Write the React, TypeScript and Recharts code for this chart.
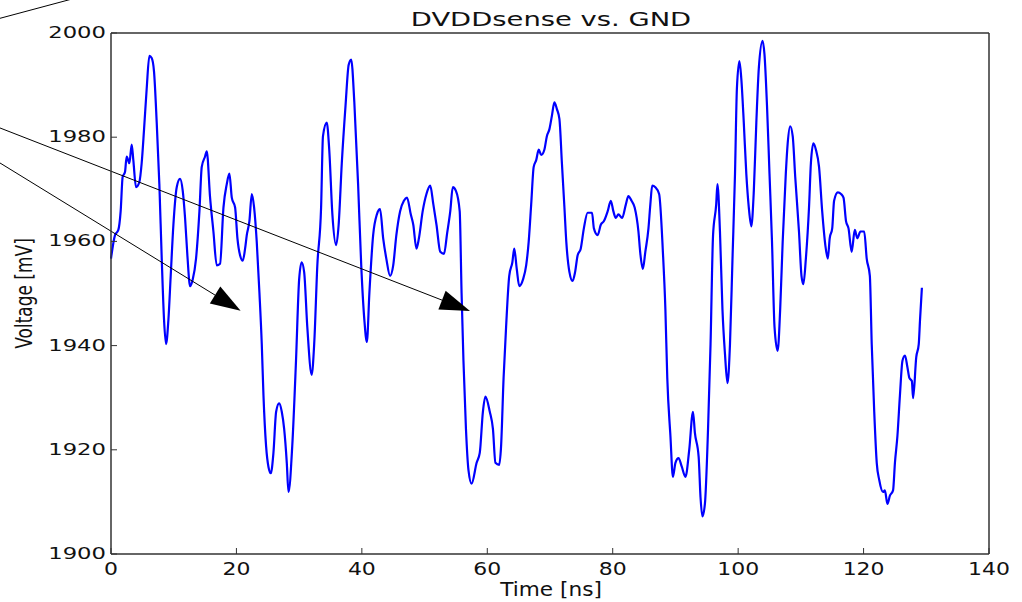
import { LineChart, Line, XAxis, YAxis, ReferenceLine, Label } from "recharts";

// time [ns] and voltage [mV]
const time = [
  0, 0.64, 1.17, 1.54, 1.86, 2.23, 2.5, 2.93, 3.3, 3.56, 3.99, 4.52, 4.89, 5.27, 5.69, 6.12, 6.49, 6.86, 7.29,
  7.71, 8.09, 8.46, 8.78, 9.15, 9.52, 9.95, 10.48, 11.01, 11.44, 11.81, 12.18, 12.61, 13.03, 13.56, 14.1, 14.47,
  15.0, 15.27, 15.8, 16.33, 16.86, 17.39, 17.93, 18.46, 18.88, 19.26, 19.79, 20.16, 20.59, 21.01, 21.38, 21.65,
  22.07, 22.45, 22.82, 23.24, 23.67, 24.04, 24.31, 24.73, 25.11, 25.48, 25.9, 26.33, 26.81, 27.23, 27.61, 28.03,
  28.3, 28.9, 29.5, 30.0, 30.4, 30.8, 31.3, 32.0, 32.4, 32.9, 33.5, 33.8, 34.4, 34.8, 35.3, 35.9, 36.3, 36.8,
  37.4, 37.9, 38.3, 38.8, 39.4, 39.9, 40.4, 40.8, 41.2, 41.8, 42.4, 42.9, 43.4, 43.9, 44.5, 45.0, 45.5, 46.1,
  46.7, 47.2, 47.8, 48.2, 48.7, 49.1, 49.7, 50.3, 50.9, 51.4, 51.9, 52.5, 53.1, 53.6, 54.1, 54.5, 55.0, 55.6,
  55.9, 56.2, 56.6, 57.0, 57.5, 58.3, 58.8, 59.3, 59.7, 60.4, 60.9, 61.3, 61.9, 62.2, 62.6, 63.0, 63.5, 64.0,
  64.3, 64.7, 65.1, 65.7, 66.2, 66.6, 67.0, 67.4, 67.8, 68.2, 68.6, 69.1, 69.5, 69.9, 70.3, 70.7, 71.1, 71.5,
  71.9, 72.3, 72.6, 73.1, 73.6, 74.0, 74.4, 74.9, 75.4, 76.0, 76.7, 77.0, 77.6, 78.1, 78.6, 79.2, 79.7, 80.1,
  80.5, 80.9, 81.5, 82.1, 82.5, 83.0, 83.5, 84.1, 84.4, 84.8, 85.2, 85.7, 86.0, 86.3, 86.8, 87.4, 88.0, 88.4,
  88.7, 89.2, 89.6, 90.0, 90.5, 91.0, 91.6, 92.2, 92.8, 93.1, 93.7, 94.0, 94.3, 94.7, 95.2, 95.6, 96.0, 96.5,
  96.7, 97.1, 97.5, 97.9, 98.3, 98.7, 99.1, 99.5, 99.8, 100.2, 100.5, 100.9, 101.3, 101.7, 102.1, 102.5, 102.9,
  103.3, 103.9, 104.2, 104.6, 105.0, 105.4, 105.8, 106.3, 106.7, 107.1, 107.6, 107.9, 108.3, 108.7, 109.1,
  109.7, 110.1, 110.4, 110.8, 111.3, 111.6, 112.0, 112.4, 112.9, 113.4, 113.9, 114.3, 114.6, 115.0, 115.3,
  115.9, 116.4, 116.8, 117.2, 117.6, 118.1, 118.6, 119.0, 119.5, 120.1, 120.5, 121.0, 121.3, 121.7, 122.1,
  122.5, 123.1, 123.4, 123.8, 124.2, 124.7, 125.0, 125.4, 125.8, 126.2, 126.6, 127.0, 127.3, 127.7, 127.9,
  128.4, 128.8, 129.0, 129.3,
];

const voltage = [
  1956.7, 1961.2, 1962.2, 1965.8, 1972.4, 1973.3, 1976.3, 1975, 1978.6, 1975.6, 1970.4, 1971.4, 1975, 1981.5,
  1989.3, 1995.6, 1995.2, 1992.6, 1982.8, 1971, 1956.7, 1944.9, 1940.3, 1944.9, 1953.4, 1963.2, 1970.4, 1972,
  1969.7, 1964.5, 1957.3, 1951.4, 1952.7, 1956.7, 1965.8, 1974.3, 1976.3, 1977.3, 1968.4, 1961.9, 1955.4,
  1955.7, 1966.5, 1971, 1973, 1968.4, 1966.5, 1960.6, 1957.3, 1956.3, 1958.6, 1961.2, 1963.9, 1969.1, 1966.5,
  1959.9, 1950.1, 1940.3, 1930.5, 1920.7, 1916.7, 1915.5, 1919.4, 1927.3, 1928.9, 1927.3, 1924, 1917.5,
  1911.9, 1920.7, 1937.1, 1952.7, 1956, 1954.1, 1943.6, 1934.4, 1940.3, 1955.4, 1966.5, 1980.2, 1982.8, 1977.6,
  1965.2, 1959.3, 1963.2, 1975, 1986.1, 1993.9, 1994.9, 1986.7, 1971, 1955.4, 1944.9, 1940.7, 1950.1, 1961.2,
  1965.2, 1966.2, 1960.6, 1956.7, 1953.4, 1955.4, 1961.2, 1965.8, 1967.8, 1968.4, 1965.2, 1963.2, 1958.6,
  1960.6, 1965.8, 1969.1, 1970.7, 1967.1, 1963.2, 1958, 1957.6, 1961.6, 1965.8, 1970.4, 1969.7, 1965.8,
  1950.1, 1937.1, 1924, 1916.1, 1913.5, 1917.5, 1919.4, 1927.3, 1930.2, 1927.3, 1924, 1917.5, 1917.1, 1920.7,
  1933.8, 1943.6, 1953.4, 1956, 1958.6, 1954.7, 1951.4, 1952.7, 1955.4, 1959.9, 1967.1, 1974.3, 1975.6,
  1977.6, 1976.6, 1977.6, 1980.2, 1981.5, 1984.1, 1986.7, 1985.4, 1983.5, 1975, 1966.5, 1959.9, 1954.1,
  1952.4, 1954.1, 1957.3, 1958.6, 1962.5, 1965.5, 1965.5, 1962.5, 1961.2, 1963.2, 1963.9, 1965.8, 1967.8,
  1965.8, 1964.5, 1965.2, 1964.5, 1967.1, 1968.7, 1967.8, 1966.5, 1961.9, 1957.7, 1954.7, 1958, 1962.5,
  1967.1, 1970.7, 1970.4, 1969.1, 1958, 1946.9, 1933.8, 1922.7, 1914.8, 1917.5, 1918.4, 1916.8, 1914.8, 1920,
  1927.3, 1923.3, 1918.7, 1910.9, 1907.2, 1909.6, 1924, 1940.3, 1961.2, 1967.1, 1971, 1961.9, 1946.9, 1938.4,
  1932.8, 1940.3, 1956.7, 1973, 1989.3, 1994.6, 1991.3, 1982.8, 1973, 1966.5, 1962.9, 1969.7, 1982.8, 1993.3,
  1998.5, 1995.9, 1986.1, 1973, 1959.9, 1943.6, 1939, 1946.9, 1959.9, 1973, 1978.8, 1982.1, 1980.2, 1972.4,
  1961.9, 1953.4, 1951.8, 1956.7, 1966.5, 1975, 1978.8, 1977.6, 1974.3, 1965.8, 1959.3, 1956.7, 1960.6,
  1962.5, 1967.8, 1969.4, 1969.1, 1968.4, 1963.9, 1962.5, 1958, 1962.2, 1960.6, 1961.9, 1961.9, 1956.7,
  1953.4, 1940.3, 1927.3, 1917.5, 1914.2, 1911.9, 1912.2, 1909.6, 1911.2, 1912.2, 1917.5, 1922.7, 1930.5,
  1937.1, 1938.1, 1935.8, 1933.8, 1933.2, 1929.9, 1937.8, 1940.3, 1944.9, 1951.1,
];

const xTicks = [0, 20, 40, 60, 80, 100, 120, 140];
const yTicks = [1900, 1920, 1940, 1960, 1980, 2000];

// annotation segments, in data units (they start left of the axes)
const arrowToFirstDip = [
  { x: -17.7, y: 1975.05 },
  { x: 20.67, y: 1946.68 },
];
const arrowToSecondDip = [
  { x: -17.7, y: 1981.77 },
  { x: 57.24, y: 1946.64 },
];
const strayLine = [
  { x: -17.7, y: 2002.82 },
  { x: -6.3, y: 2006.5 },
];

const data = time.map((t, i) => ({ t, v: voltage[i] }));

const FONT = "DejaVu Sans";
const AXIS = "#333";

const XTick = ({ x, y, payload }: any) => (
  <text
    transform={`translate(${x},${y}) scale(1.22,1)`}
    textAnchor="middle"
    fontSize={18}
    fontFamily={FONT}
    fill="#111"
  >
    {payload.value}
  </text>
);

const YTick = ({ x, y, payload }: any) => (
  <text
    transform={`translate(${x},${y}) scale(1.42,1)`}
    y={5}
    textAnchor="end"
    fontSize={16}
    fontFamily={FONT}
    fill="#111"
  >
    {payload.value}
  </text>
);

const plainLine = (p: any) => (
  <line x1={p.x1} y1={p.y1} x2={p.x2} y2={p.y2} stroke="#000" strokeWidth={1} />
);

const arrowLine = (p: any) => {
  const dx = p.x2 - p.x1;
  const dy = p.y2 - p.y1;
  const len = Math.sqrt(dx * dx + dy * dy);
  const ux = dx / len;
  const uy = dy / len;
  const bx = p.x2 - ux * 30;
  const by = p.y2 - uy * 30;
  const pts = `${p.x2},${p.y2} ${bx - uy * 10},${by + ux * 10} ${bx + uy * 10},${by - ux * 10}`;
  return (
    <g>
      <line x1={p.x1} y1={p.y1} x2={bx} y2={by} stroke="#000" strokeWidth={1} />
      <polygon points={pts} fill="#000" />
    </g>
  );
};

const titleContent = ({ viewBox }: any) => (
  <text
    transform={`translate(${viewBox.x + viewBox.width / 2 + 1},26) scale(1.37,1)`}
    textAnchor="middle"
    fontSize={20}
    fontFamily={FONT}
    fill="#111"
  >
    DVDDsense vs. GND
  </text>
);

const xLabelContent = ({ viewBox }: any) => (
  <text
    transform={`translate(${viewBox.x + viewBox.width / 2 + 1},596) scale(1.14,1)`}
    textAnchor="middle"
    fontSize={19}
    fontFamily={FONT}
    fill="#111"
  >
    Time [ns]
  </text>
);

const yLabelContent = ({ viewBox }: any) => (
  <text
    transform={`translate(32,${viewBox.y + viewBox.height / 2}) scale(1.3,1) rotate(-90)`}
    textAnchor="middle"
    fontSize={17}
    fontFamily={FONT}
    fill="#111"
  >
    Voltage [mV]
  </text>
);

export default function App() {
  return (
    <div style={{ position: "absolute", left: 0, top: 0, width: 1022, height: 602, background: "#fff" }}>
      <LineChart width={1022} height={602} data={data} margin={{ top: 32, right: 32, bottom: 0, left: 0 }}>
        <XAxis
          dataKey="t"
          type="number"
          domain={[0, 140]}
          ticks={xTicks}
          height={48}
          tickSize={-6}
          tickMargin={27}
          axisLine={{ stroke: AXIS, strokeWidth: 1.5 }}
          tickLine={{ stroke: AXIS }}
          tick={<XTick />}
          label={<Label content={xLabelContent} />}
        />
        <XAxis
          xAxisId="top"
          orientation="top"
          type="number"
          domain={[0, 140]}
          ticks={xTicks}
          height={1}
          tickSize={-6}
          axisLine={{ stroke: AXIS, strokeWidth: 1.5 }}
          tickLine={{ stroke: AXIS }}
          tick={false}
          label={<Label content={titleContent} />}
        />
        <YAxis
          type="number"
          domain={[1900, 2000]}
          ticks={yTicks}
          width={111}
          tickSize={-6}
          tickMargin={11}
          axisLine={{ stroke: AXIS, strokeWidth: 1.5 }}
          tickLine={{ stroke: AXIS }}
          tick={<YTick />}
          label={<Label content={yLabelContent} />}
        />
        <YAxis
          yAxisId="right"
          orientation="right"
          type="number"
          domain={[1900, 2000]}
          ticks={yTicks}
          width={1}
          tickSize={-6}
          axisLine={{ stroke: AXIS, strokeWidth: 1.5 }}
          tickLine={{ stroke: AXIS }}
          tick={false}
        />
        <Line
          type="monotone"
          dataKey="v"
          stroke="#0000ff"
          strokeWidth={2.2}
          dot={false}
          isAnimationActive={false}
        />
        <ReferenceLine segment={strayLine} ifOverflow="visible" shape={plainLine} />
        <ReferenceLine segment={arrowToSecondDip} ifOverflow="visible" shape={arrowLine} />
        <ReferenceLine segment={arrowToFirstDip} ifOverflow="visible" shape={arrowLine} />
      </LineChart>
    </div>
  );
}
